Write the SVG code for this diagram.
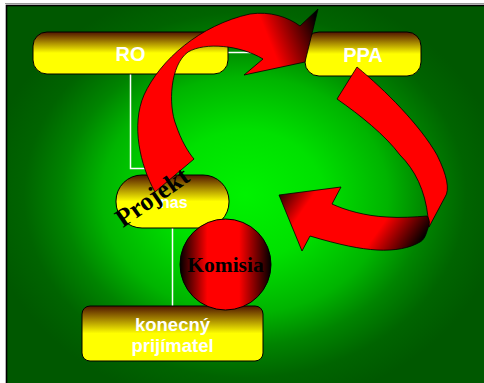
<svg xmlns="http://www.w3.org/2000/svg" width="484" height="383" viewBox="0 0 484 383">
  <defs>
    <radialGradient id="bg" gradientUnits="userSpaceOnUse" cx="245" cy="195" r="215" gradientTransform="translate(245,195) scale(1.21,1) translate(-245,-195)">
      <stop offset="0" stop-color="#00f200"/>
      <stop offset="0.3" stop-color="#00e000"/>
      <stop offset="0.55" stop-color="#00b400"/>
      <stop offset="0.7" stop-color="#008400"/>
      <stop offset="0.85" stop-color="#006400"/>
      <stop offset="1" stop-color="#005800"/>
    </radialGradient>
    <linearGradient id="yel" x1="0" y1="0" x2="0" y2="1">
      <stop offset="0" stop-color="#501400"/>
      <stop offset="0.5" stop-color="#ffff00"/>
      <stop offset="1" stop-color="#ffff00"/>
    </linearGradient>
    <linearGradient id="ball" x1="0" y1="0" x2="1" y2="0">
      <stop offset="0" stop-color="#000000"/>
      <stop offset="0.3" stop-color="#ff0000"/>
      <stop offset="0.65" stop-color="#ff0000"/>
      <stop offset="1" stop-color="#000000"/>
    </linearGradient>
    <linearGradient id="arr1" gradientUnits="userSpaceOnUse" x1="255" y1="40" x2="315" y2="16">
      <stop offset="0" stop-color="#ff0000"/>
      <stop offset="0.2" stop-color="#ff0000"/>
      <stop offset="1" stop-color="#000000"/>
    </linearGradient>
    <linearGradient id="arr2" gradientUnits="userSpaceOnUse" x1="275" y1="190" x2="398" y2="275.5">
      <stop offset="0" stop-color="#000000"/>
      <stop offset="0.23" stop-color="#ff0000"/>
      <stop offset="0.72" stop-color="#ff0000"/>
      <stop offset="1" stop-color="#000000"/>
    </linearGradient>
    <style>
      .node { fill: url(#yel); stroke: #000; stroke-width: 1; }
      .lbl { font-family: "Liberation Sans", Arial, sans-serif; font-weight: bold; fill: #fff; text-anchor: middle; }
      .serif { font-family: "Liberation Serif", "Times New Roman", serif; font-weight: bold; fill: #000; text-anchor: middle; }
      .conn { stroke: #fff; stroke-width: 1.5; fill: none; }
      .arrow { stroke: #000; stroke-width: 0.8; stroke-linejoin: miter; }
    </style>
  </defs>

  <rect x="0" y="0" width="484" height="383" fill="#fff"/>
  <line x1="5" y1="3.5" x2="484" y2="3.5" stroke="#999" stroke-width="1.2"/>
  <rect x="6.5" y="5.5" width="490" height="390" fill="url(#bg)" stroke="#000" stroke-width="1.6"/>

  <g id="connectors">
    <path class="conn" d="M228,52.5 H305"/>
    <path class="conn" d="M130.5,74 V168.5 H172 V175"/>
    <path class="conn" d="M172.5,228 V306"/>
  </g>

  <g id="node-ro">
    <rect class="node" x="33" y="32" width="195" height="42" rx="14"/>
    <text class="lbl" x="130.5" y="61" font-size="20">RO</text>
  </g>
  <g id="node-ppa">
    <rect class="node" x="305" y="32" width="116" height="44" rx="14"/>
    <text class="lbl" x="363" y="62" font-size="20">PPA</text>
  </g>
  <g id="node-projekt">
    <rect class="node" x="116" y="175" width="113" height="53" rx="26"/>
    <text class="lbl" x="160" y="208" font-size="16" style="text-anchor:start">nas</text>
  </g>
  <g id="node-konecny">
    <rect class="node" x="82" y="306" width="181" height="55" rx="8"/>
    <text class="lbl" x="172.5" y="331" font-size="18.5">konecný</text>
    <text class="lbl" x="172.5" y="352" font-size="18.5">prijímatel</text>
  </g>

  <g id="arrows">
    <path class="arrow" fill="url(#arr1)" d="M155,192 C140,165 131,125 144,95 C160,60 200,25 250,14 C270,11 288,17 300,26 L318,9 L305,62 L244,75 L263,59 C240,45 205,42 188,52 C170,65 168,105 176,125 C181,140 188,152 194,159 Z"/>
    <path class="arrow" fill="#ff0000" d="M337,99 L357,67 C385,90 420,125 437,155 C447,175 450,190 445,197 L429,227 L428,217 C425,190 415,170 400,155 C385,135 360,115 337,99 Z"/>
    <path class="arrow" fill="url(#arr2)" d="M279,195 L341,187 L332,204 C345,210 365,216 387,217 C400,218 415,217 427,216 C430,220 430,224 428,228 C426,235 424,240 420,242 C410,248 395,251 377,250 C360,249 340,245 310,236 L302,251 Z"/>
  </g>

  <g id="node-komisia">
    <circle cx="225.5" cy="264.5" r="45.5" fill="url(#ball)" stroke="#000" stroke-width="1"/>
    <text class="serif" x="225.5" y="272" font-size="21.5">Komisia</text>
  </g>

  <text class="serif" x="0" y="0" font-size="26" transform="translate(157,204) rotate(-35)">Projekt</text>
</svg>
